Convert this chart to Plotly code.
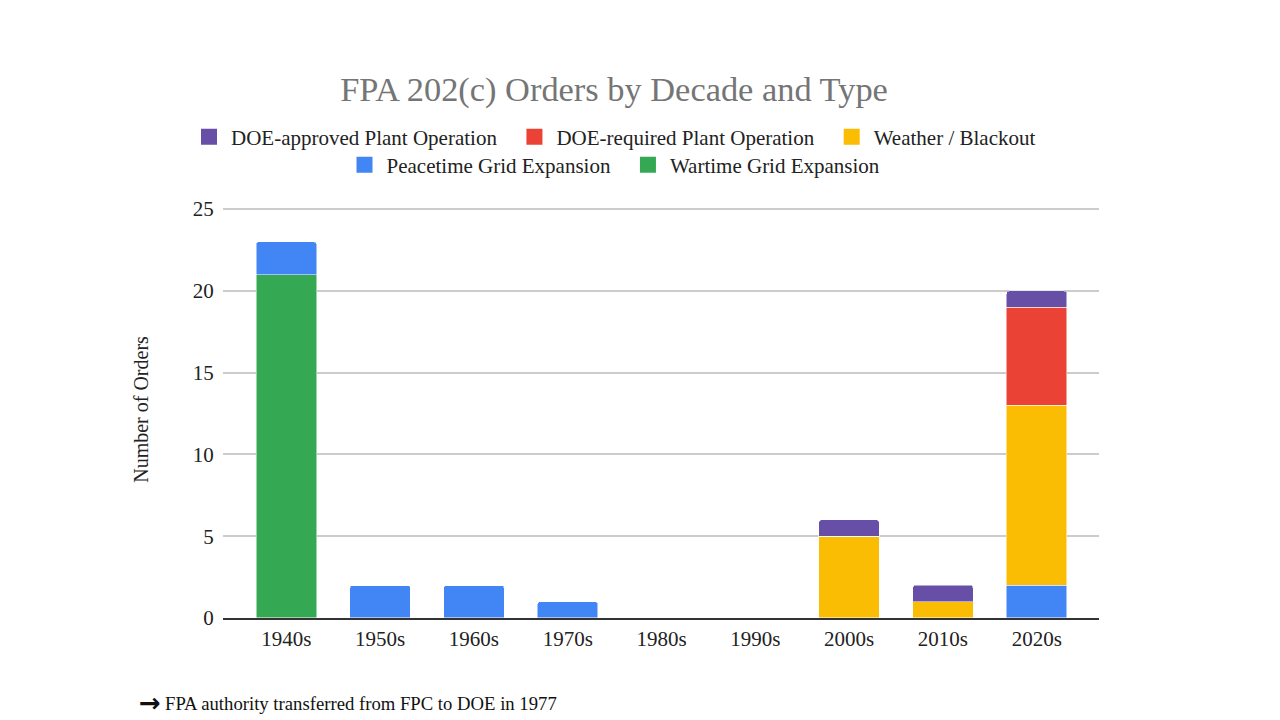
import plotly.graph_objects as go

decades = ['1940s', '1950s', '1960s', '1970s', '1980s', '1990s', '2000s', '2010s', '2020s']

wartime = [21, 0, 0, 0, 0, 0, 0, 0, 0]
peacetime = [2, 2, 2, 1, 0, 0, 0, 0, 2]
weather = [0, 0, 0, 0, 0, 0, 5, 1, 11]
doe_required = [0, 0, 0, 0, 0, 0, 0, 0, 6]
doe_approved = [0, 0, 0, 0, 0, 0, 1, 1, 1]

y_ticks = [0, 5, 10, 15, 20, 25]

# (name, values, colour, legend, rank) - stacked bottom to top
series = [
    ('Wartime Grid Expansion', wartime, '#34a853', 'legend2', 2),
    ('Peacetime Grid Expansion', peacetime, '#4285f4', 'legend2', 1),
    ('Weather / Blackout', weather, '#fbbc04', 'legend', 3),
    ('DOE-required Plant Operation', doe_required, '#ea4335', 'legend', 2),
    ('DOE-approved Plant Operation', doe_approved, '#674ea7', 'legend', 1),
]

fig = go.Figure()
for name, vals, col, leg, rank in series:
    fig.add_trace(go.Bar(
        x=decades, y=vals, name=name, showlegend=False,
        marker=dict(color=col, line=dict(color='white', width=0.5)),
    ))
# bigger square legend keys, a bit of extra space after each entry
pad = '\u00a0\u00a0'
for name, vals, col, leg, rank in series:
    label = name if rank == 1 or (leg == 'legend' and rank == 2) else name
    fig.add_trace(go.Scatter(
        x=[None], y=[None], mode='markers',
        name=label + (pad if not (leg == 'legend' and rank == 3) and not (leg == 'legend2' and rank == 2) else ''),
        marker=dict(symbol='square', size=20, color=col),
        legend=leg, legendrank=rank,
    ))

cx = 606 / 1280
leg_style = dict(
    orientation='h', xref='container', yref='container',
    x=cx, xanchor='center', yanchor='middle',
    font=dict(size=21, color='#222222'), traceorder='normal',
    bgcolor='rgba(0,0,0,0)', itemwidth=34,
)

fig.update_layout(
    barmode='stack',
    bargap=0.355,
    barcornerradius=3,
    width=1280, height=720,
    plot_bgcolor='white', paper_bgcolor='white',
    font=dict(family='Liberation Serif', size=21, color='#222222'),
    title=dict(
        text='FPA 202(c) Orders by Decade and Type',
        font=dict(size=34.4, color='#757575'),
        xref='container', x=cx, xanchor='center',
        yref='container', y=1 - 81 / 720, yanchor='middle',
    ),
    legend=dict(y=1 - 129 / 720, **leg_style),
    legend2=dict(y=1 - 157 / 720, **leg_style),
    margin=dict(l=215, r=189, t=191, b=110),
    xaxis=dict(
        range=[-0.675, 8.664],
        showgrid=False, showline=True, linecolor='#333333', linewidth=1.5,
        ticks='outside', ticklen=1, tickcolor='white', tickfont=dict(size=21),
    ),
    yaxis=dict(
        range=[0, 25.5], tickvals=y_ticks, showgrid=True, gridcolor='#cccccc',
        gridwidth=1.5, zeroline=False, ticks='outside', ticklen=4,
        tickcolor='white', tickfont=dict(size=21),
        title=dict(text='Number of Orders', font=dict(size=20), standoff=38),
    ),
    annotations=[dict(
        text='<b>\u2192</b>',
        xref='paper', yref='paper', x=-0.098, y=-0.209 * 411 / 419.2,
        xanchor='left', yanchor='middle', showarrow=False,
        font=dict(size=26, color='#111111', family='DejaVu Sans'),
    ), dict(
        text='FPA authority transferred from FPC to DOE in 1977',
        xref='paper', yref='paper', x=-0.0685, y=-0.209 * 411 / 419.2,
        xanchor='left', yanchor='middle', showarrow=False,
        font=dict(size=18.7, color='#111111'),
    )],
)

fig.write_html('out.html')
